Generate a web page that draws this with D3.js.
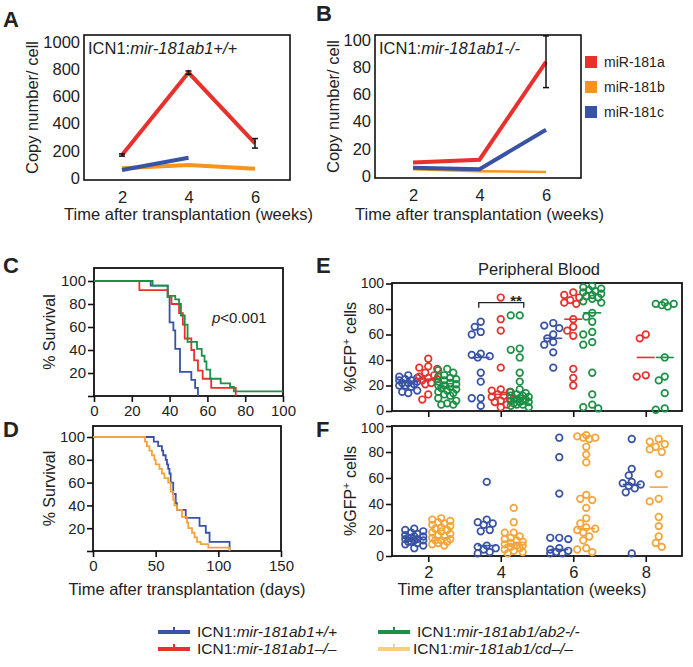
<!DOCTYPE html>
<html><head><meta charset="utf-8">
<script src="https://cdn.jsdelivr.net/npm/d3@7"></script>
<style>
body{margin:0;background:#fff}
svg text{font-family:"Liberation Sans",Arial,Helvetica,sans-serif;fill:#222}
</style>
</head><body>
<svg id="chart" width="693" height="667"></svg>
<script>
// ================= DATA =================
// Panels A/B : copy number per cell
const weeksAB = [2, 4, 6];
const A_miR181a = [169, 775, 255];
const A_miR181a_err = [8, 12, 35];
const A_miR181b = [72, 95, 68];
const A_miR181c = [59, 149, null];
const B_miR181a = [10, 12, 84];
const B_miR181a_err = [0, 0, 19];
const B_miR181b = [5, 3.5, 3];
const B_miR181c = [6, 5, 34];
const ticksA = [0, 200, 400, 600, 800, 1000];
const ticksB = [0, 20, 40, 60, 80, 100];
const miRNames = ["miR-181a", "miR-181b", "miR-181c"];

// Panel C : survival (days, % survival after step)
const C_wt_days   = [0, 30, 39, 40, 42, 43, 45.5, 51.5, 53.5, 55];
const C_wt_surv   = [100, 96, 86, 64, 57, 41, 21, 14, 7, 0];
const C_ab1_days  = [0, 24, 39, 41, 45, 47, 48, 51.5, 53, 55, 57.5, 62, 75];
const C_ab1_surv  = [100, 92, 86, 80, 72, 62, 50, 40, 31, 22, 15, 7, 0];
const C_ab2_days  = [0, 31, 39, 43, 45, 46, 48, 49.5, 54.5, 57, 58.5, 59.5, 61.5, 67, 72, 74, 100];
const C_ab2_surv  = [100, 96, 87, 84, 80, 70, 62, 47, 41, 35, 30, 23, 15, 11, 8, 4, 4];
const ticksCx = [0, 20, 40, 60, 80, 100];
const ticksSurv = [0, 20, 40, 60, 80, 100];

// Panel D : survival
const D_wt_days  = [0, 48.5, 52, 55, 56, 58, 59, 60, 61, 62, 64, 66, 67, 74, 85, 90, 93, 109];
const D_wt_surv  = [100, 96, 92, 88, 84, 80, 76, 72, 68, 60, 50, 42, 36, 29, 22, 16, 8, 0];
const D_cd_days  = [0, 41.5, 43, 45, 47, 49, 50, 53, 55, 57, 60, 62, 64, 65, 67, 71, 75, 76, 79, 81, 83, 86, 92, 109];
const D_cd_surv  = [100, 96, 92, 88, 84, 80, 76, 72, 68, 64, 60, 52, 45, 40, 36, 30, 25, 20, 16, 12, 8, 6, 3, 0];
const ticksDx = [0, 50, 100, 150];

// Panel E : %GFP+ cells, peripheral blood
const E_wt  = {2: [28,27,26,25,24,24,23,22,22,21,20,20,19,16,15,14],
               4: [70,66,62,60,45,44,43,42,30,23,10,10,4],
               6: [69,67,65,60,57,54,52,46,34]};
const E_ab1 = {2: [41,35,34,33,30,28,27,26,25,24,22,21,13,9],
               4: [89,72,63,34,17,16,15,13,12,11,10,8,7,5,3],
               6: [93,91,89,87,85,84,72,66,63,59,33,26,20],
               8: [60,57,28,27]};
const E_ab2 = {2: [33,32,30,28,27,26,25,24,23,22,21,20,20,19,18,17,16,15,14,13,12,10,8,6,5,5],
               4: [75,75,49,48,42,30,23,17,15,14,13,12,12,11,10,10,9,9,8,8,7,7,6,5,5,4,3],
               6: [98,97,96,95,94,93,92,91,90,89,88,86,85,77,74,70,62,60,54,52,30,13,5,3,2],
               8: [85,84,84,83,82,42,27,24,14,2,1]};
const E_wt_med  = {2: 23, 4: 42, 6: 57};
const E_ab1_med = {2: 25, 4: 13, 6: 72, 8: 42};
const E_ab2_med = {2: 19, 4: 10, 6: 77, 8: 42};

// Panel F
const F_wt = {2: [21,20,19,18,17,16,15,15,14,14,13,13,12,12,11,11,10,9,8,6],
              4: [57,28,26,25,24,20,19,8,7,6,5,3,2],
              6: [91,76,48,14,14,13,6,5,4,3,2,2],
              8: [90,67,62,57,56,55,54,52,49,2]};
const F_cd = {2: [29,28,27,26,25,24,23,22,21,20,19,18,17,16,15,14,13,12,12,11,10,9,8],
              4: [37,26,18,18,15,14,13,12,11,10,9,8,8,7,6,5,4,3,2],
              6: [93,92,91,91,90,84,78,72,47,44,43,37,29,25,22,21,20,18,15,12,6,5,3],
              8: [90,88,86,84,82,80,63,44,42,30,23,15,10,7]};
const F_wt_med = {2: 14, 4: 8, 6: 5, 8: 55};
const F_cd_med = {2: 14, 4: 8.5, 6: 21, 8: 53};
const ticksWeeks = [2, 4, 6, 8];
const ticksGFP = [0, 20, 40, 60, 80, 100];

const genotypes = ["mir-181ab1+/+", "mir-181ab1–/–", "mir-181ab1/ab2-/-", "mir-181ab1/cd–/–"];

// ================= STYLE =================
const col = {blue:"#3953a4", red:"#e8302c", orange:"#f7941d", green:"#1c9046", gold:"#f5a43a", goldLight:"#f8cf80"};
const svg = d3.select("#chart");
const fmt = d3.format("d");

function frame(x0, y0, x1, y1, w) {
  svg.append("rect").attr("x", x0).attr("y", y0).attr("width", x1 - x0).attr("height", y1 - y0)
    .attr("fill", "none").attr("stroke", "#111").attr("stroke-width", w || 1.6);
}
function label(txt, x, y, size, opts) {
  opts = opts || {};
  const t = svg.append("text").attr("x", x).attr("y", y).attr("font-size", size)
    .attr("text-anchor", opts.anchor || "start").text(txt);
  if (opts.bold) t.attr("font-weight", "bold");
  if (opts.rotate) t.attr("transform", `rotate(-90,${x},${y})`);
  return t;
}
function icn(x, y, size, italicPart) {
  const t = svg.append("text").attr("x", x).attr("y", y).attr("font-size", size);
  t.append("tspan").text("ICN1:");
  t.append("tspan").attr("font-style", "italic").text(italicPart);
  return t;
}
function styleAxis(g, size) {
  g.selectAll("path.domain").remove();
  g.selectAll("text").attr("font-size", size).attr("fill", "#222");
  g.selectAll("line").attr("stroke", "#111").attr("stroke-width", 1.6);
}

// ================= PANEL A & B =================
function copyPanel(o) {
  const x = d3.scaleLinear().domain([2, 6]).range(o.xr);
  const y = d3.scaleLinear().domain(o.yd).range(o.yr);
  frame(o.f[0], o.f[1], o.f[2], o.f[3]);
  const gy = svg.append("g").attr("transform", `translate(${o.f[0]},0)`)
    .call(d3.axisLeft(y).tickValues(o.ticks).tickFormat(fmt).tickSize(0).tickPadding(4));
  styleAxis(gy, 16.5);
  const gx = svg.append("g").attr("transform", `translate(0,${o.f[3]})`)
    .call(d3.axisBottom(x).tickValues(weeksAB).tickFormat(fmt).tickSize(0).tickPadding(11));
  styleAxis(gx, 16.5);
  const line = d3.line().defined(d => d[1] != null).x(d => x(d[0])).y(d => y(d[1]));
  const series = [[o.b, col.orange, o.bw || 4], [o.c, col.blue, 4], [o.a, col.red, 4]];
  series.forEach(([vals, c, w]) => {
    svg.append("path").datum(weeksAB.map((wk, i) => [wk, vals[i]]))
      .attr("d", line).attr("fill", "none").attr("stroke", c).attr("stroke-width", w);
  });
  o.err.forEach((e, i) => {
    if (!e) return;
    const cx = x(weeksAB[i]);
    const g = svg.append("g").attr("stroke", "#111").attr("stroke-width", 1.5);
    g.append("line").attr("x1", cx).attr("x2", cx).attr("y1", y(o.a[i] - e)).attr("y2", y(o.a[i] + e));
    [o.a[i] - e, o.a[i] + e].forEach(v => g.append("line").attr("x1", cx - 3).attr("x2", cx + 3).attr("y1", y(v)).attr("y2", y(v)));
  });
  label("Copy number/ cell", o.ylab, (o.f[1] + o.f[3]) / 2, 16.5, {anchor: "middle", rotate: true});
  label("Time after transplantation (weeks)", (o.xr[0] + o.xr[1]) / 2, 220, 16.5, {anchor: "middle"});
}
copyPanel({f: [84, 35, 290, 180], xr: [122, 255], yd: [0, 1000], yr: [178, 42], ticks: ticksA,
  a: A_miR181a, b: A_miR181b, c: A_miR181c, err: A_miR181a_err, ylab: 38});
copyPanel({f: [375, 35, 581, 178], xr: [413, 546], yd: [0, 100], yr: [176, 40], ticks: ticksB,
  a: B_miR181a, b: B_miR181b, c: B_miR181c, err: B_miR181a_err, ylab: 339, bw: 2.5});
icn(88, 54, 16.5, "mir-181ab1+/+");
icn(379, 54, 16.5, "mir-181ab1-/-");
label("A", 3, 27, 22, {bold: true});
label("B", 316, 21, 22, {bold: true});

// miR legend
[col.red, col.orange, col.blue].forEach((c, i) => {
  svg.append("rect").attr("x", 585).attr("y", 56 + i * 25).attr("width", 12).attr("height", 12).attr("fill", c);
  label(miRNames[i], 604, 67 + i * 25, 14);
});

// ================= PANEL C & D =================
function survPanel(o) {
  const x = d3.scaleLinear().domain(o.xd).range(o.xr);
  const y = d3.scaleLinear().domain([0, 100]).range(o.yr);
  frame(o.f[0], o.f[1], o.f[2], o.f[3], 1.8);
  const gy = svg.append("g").attr("transform", `translate(${o.f[0]},0)`)
    .call(d3.axisLeft(y).tickValues(ticksSurv).tickSize(6).tickPadding(2).tickFormat(d => d === 0 ? "" : fmt(d)));
  styleAxis(gy, 15);
  const gx = svg.append("g").attr("transform", `translate(0,${o.f[3]})`)
    .call(d3.axisBottom(x).tickValues(o.xt).tickFormat(fmt).tickSize(6).tickPadding(3));
  styleAxis(gx, 15);
  const line = d3.line().curve(d3.curveStepAfter).x(d => x(d[0])).y(d => y(d[1]));
  o.curves.forEach(([days, surv, c]) => {
    svg.append("path").datum(days.map((d, i) => [d, surv[i]]))
      .attr("d", line).attr("fill", "none").attr("stroke", c).attr("stroke-width", 1.8);
  });
  label("% Survival", 55, (o.f[1] + o.f[3]) / 2, 16, {anchor: "middle", rotate: true});
}
survPanel({f: [94, 268, 283, 396], xd: [0, 100], xr: [94, 283], yr: [396, 281], xt: ticksCx,
  curves: [[C_wt_days, C_wt_surv, col.blue], [C_ab1_days, C_ab1_surv, col.red], [C_ab2_days, C_ab2_surv, col.green]]});
survPanel({f: [93, 426, 281, 551], xd: [0, 150], xr: [93, 281], yr: [551, 437], xt: ticksDx,
  curves: [[D_wt_days, D_wt_surv, col.blue], [D_cd_days, D_cd_surv, col.gold]]});
const pt = svg.append("text").attr("x", 212).attr("y", 323).attr("font-size", 15);
pt.append("tspan").attr("font-style", "italic").text("p");
pt.append("tspan").text("<0.001");
label("Time after transplantation (days)", 187, 595, 16.5, {anchor: "middle"});
label("C", 3, 273, 22, {bold: true});
label("D", 3, 437, 22, {bold: true});

// ================= PANEL E & F =================
const xW = d3.scaleLinear().domain([1, 9]).range([392, 682]);
// compact swarm layout: points stay within +/- maxW of the group centre
function swarm(values, cx, y, D, maxW) {
  const pts = values.map(v => ({v, y: y(v)})).sort((a, b) => a.y - b.y);
  const placed = [];
  const cands = [0];
  for (let s = 3; s <= maxW; s += 3) cands.push(-s, s);
  pts.forEach(p => {
    let best = null, bestD = -1;
    for (const off of cands) {
      const xx = cx + off;
      let md = Infinity;
      placed.forEach(q => { md = Math.min(md, Math.hypot(q.x - xx, q.y - p.y)); });
      if (md >= D) { best = xx; break; }
      if (md > bestD + 0.5) { bestD = md; best = xx; }
    }
    p.x = best;
    placed.push(p);
  });
  return placed;
}
function gfpPanel(o) {
  const y = d3.scaleLinear().domain([0, 100]).range(o.yr);
  frame(392, o.f[0], 682, o.f[1], 1.8);
  const gy = svg.append("g").attr("transform", `translate(392,0)`)
    .call(d3.axisLeft(y).tickValues(ticksGFP).tickFormat(fmt).tickSize(6).tickPadding(2));
  styleAxis(gy, 14);
  // keep the end labels of the stacked E/F axes from touching
  gy.selectAll(".tick").filter(d => d === o.nudgeTick).select("text").attr("dy", o.nudgeDy);
  const gx = svg.append("g").attr("transform", `translate(0,${o.f[1]})`)
    .call(d3.axisBottom(xW).tickValues(ticksWeeks).tickSize(6).tickPadding(4).tickFormat(o.xlabels ? fmt : () => ""));
  styleAxis(gx, 16.5);
  o.groups.forEach(([data, med, c, dx]) => {
    Object.keys(data).forEach(wk => {
      const cx = xW(+wk) + dx;
      const pts = swarm(data[wk], cx, y, 7, 9);
      svg.append("g").selectAll("circle").data(pts).join("circle")
        .attr("cx", d => d.x).attr("cy", d => d.y).attr("r", 3.3)
        .attr("fill", "none").attr("stroke", c).attr("stroke-width", 1.7);
      if (med[wk] != null) {
        svg.append("line").attr("x1", cx - 9).attr("x2", cx + 9).attr("y1", y(med[wk])).attr("y2", y(med[wk]))
          .attr("stroke", c).attr("stroke-width", 1.6);
      }
    });
  });
  const t = svg.append("text").attr("font-size", 16).attr("text-anchor", "middle")
    .attr("transform", `translate(356,${(o.f[0] + o.f[1]) / 2}) rotate(-90)`);
  t.append("tspan").text("%GFP");
  t.append("tspan").attr("font-size", 11).attr("dy", -6).text("+");
  t.append("tspan").attr("dy", 6).text(" cells");
  return y;
}
const yE = gfpPanel({f: [283, 411], yr: [411, 283.5], xlabels: false, nudgeTick: 0, nudgeDy: "0.22em",
  groups: [[E_wt, E_wt_med, col.blue, -20], [E_ab1, E_ab1_med, col.red, 0], [E_ab2, E_ab2_med, col.green, 19]]});
gfpPanel({f: [426, 556], yr: [556, 426], xlabels: true, nudgeTick: 100, nudgeDy: "0.46em",
  groups: [[F_wt, F_wt_med, col.blue, -14], [F_cd, F_cd_med, col.gold, 13]]});
label("Peripheral Blood", 539, 275, 16.5, {anchor: "middle"});
label("Time after transplantation (weeks)", 522, 595, 16.5, {anchor: "middle"});
// significance bracket between week-4 WT and ab1/ab2 groups
const bx0 = xW(4) - 22, bx1 = xW(4) + 23, by = yE(85);
svg.append("path").attr("d", `M${bx0},${by + 5}V${by}H${bx1}V${by + 5}`)
  .attr("fill", "none").attr("stroke", "#222").attr("stroke-width", 1.3);
label("**", 516, 306, 15, {anchor: "middle", bold: true});
label("E", 316, 273, 22, {bold: true});
label("F", 316, 437, 22, {bold: true});

// ================= BOTTOM LEGEND =================
const legendCols = [col.blue, col.red, col.green, col.goldLight];
const legendPos = [[158, 632], [158, 649], [378, 632], [378, 649]];
genotypes.forEach((g, i) => {
  const [lx, ly] = legendPos[i];
  svg.append("line").attr("x1", lx).attr("x2", lx + 32).attr("y1", ly).attr("y2", ly)
    .attr("stroke", legendCols[i]).attr("stroke-width", 4);
  svg.append("line").attr("x1", lx + 16).attr("x2", lx + 16).attr("y1", ly - 5).attr("y2", ly)
    .attr("stroke", legendCols[i]).attr("stroke-width", 2);
  icn(lx + (i === 3 ? 35 : 39), ly + 5, 15.5, g);
});
</script>
</body></html>
